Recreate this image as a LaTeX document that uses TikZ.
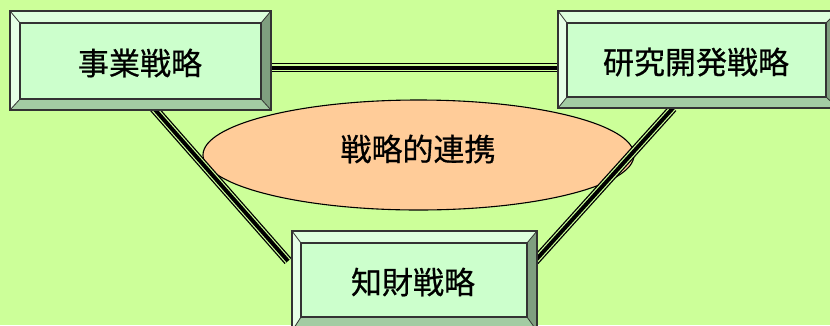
\documentclass[tikz,border=0pt]{standalone}
\usepackage{fontspec}
\newfontfamily\jp[FakeBold=0.6]{Noto Sans CJK JP}
\usetikzlibrary{shapes.geometric}
\definecolor{bgc}{HTML}{CCFF99}
\definecolor{face}{HTML}{CCFFCC}
\definecolor{bvtop}{HTML}{DDFFDD}
\definecolor{bvleft}{HTML}{E6FFE6}
\definecolor{bvright}{HTML}{7F9F7F}
\definecolor{bvbot}{HTML}{A3CCA3}
\definecolor{edge}{HTML}{333333}
\definecolor{peach}{HTML}{FFCC99}
\tikzset{
  triple/.style={draw=black, line width=9pt, line cap=butt,
    postaction={draw=bgc, line width=6.4pt, line cap=butt,
      postaction={draw=black, line width=4pt, line cap=butt}}},
  label/.style={font=\jp\fontsize{31}{31}\selectfont, inner sep=0pt},
  edgeline/.style={draw=edge, line width=1.1pt, line join=miter}
}
% #1..#4 outer x1 y1 x2 y2, #5..#8 inner x1 y1 x2 y2
\newcommand\bevelbox[8]{%
  \fill[bvtop] (#1,#2) -- (#3,#2) -- (#7,#6) -- (#5,#6) -- cycle;
  \fill[bvleft] (#1,#2) -- (#5,#6) -- (#5,#8) -- (#1,#4) -- cycle;
  \fill[bvright] (#3,#2) -- (#3,#4) -- (#7,#8) -- (#7,#6) -- cycle;
  \fill[bvbot] (#1,#4) -- (#5,#8) -- (#7,#8) -- (#3,#4) -- cycle;
  \fill[face] (#5,#6) rectangle (#7,#8);
  \draw[edgeline] (#1,#2) rectangle (#3,#4);
  \draw[edgeline] (#5,#6) rectangle (#7,#8);
  \draw[edge, line width=0.8pt] (#1,#2) -- (#5,#6) (#3,#2) -- (#7,#6)
     (#1,#4) -- (#5,#8) (#3,#4) -- (#7,#8);
}
\begin{document}
\begin{tikzpicture}[x=1pt,y=-1pt]
\useasboundingbox (0,0) rectangle (830,325);
\fill[bgc] (0,0) rectangle (830,325);
\clip (0,0) rectangle (830,325);

% central ellipse
\node[ellipse, draw=black, line width=1.1pt, fill=peach, minimum width=431pt, minimum height=110pt, inner sep=0pt] (ell) at (418.5,155) {};
\node[label] (ellt) at (418,149) {戦略的連携};

% connector end points
\coordinate (h1) at (272,67.5);
\coordinate (h2) at (559,67.5);
\coordinate (l1) at (150,104);
\coordinate (l2) at (288,261);
\coordinate (r1) at (673,108);
\coordinate (r2) at (535,261);
\draw[triple] (h1) -- (h2);
\draw[triple] (l1) -- (l2);
\draw[triple] (r1) -- (r2);

% boxes
\bevelbox{10}{11}{271}{110}{20}{23}{261}{99}
\bevelbox{558}{11}{838}{108}{567}{23}{826}{97}
\bevelbox{292}{231}{537}{331}{301}{243}{527}{317}

\node[label] (biz) at (140,63) {事業戦略};
\node[label] (rnd) at (696,62) {研究開発戦略};
\node[label] (ip) at (413,282) {知財戦略};
\end{tikzpicture}
\end{document}
